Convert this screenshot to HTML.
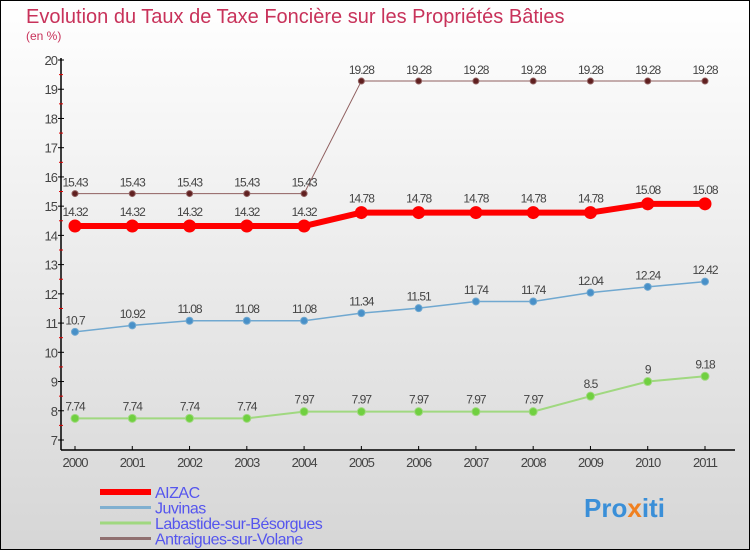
<!DOCTYPE html>
<html><head><meta charset="utf-8"><style>
body{margin:0}
#c{width:750px;height:550px;position:relative;overflow:hidden;box-sizing:border-box;border:1px solid #000;background:linear-gradient(#ffffff,#d6d6d6);font-family:"Liberation Sans",sans-serif}
</style></head><body>
<div id="c">
<svg id="s" width="750" height="550" style="position:absolute;left:-1px;top:-1px">
<text x="26" y="23" font-size="20" fill="#c8325a">Evolution du Taux de Taxe Foncière sur les Propriétés Bâties</text>
<text x="26" y="40" font-size="12" fill="#c8325a">(en %)</text>
<text x="584" y="517" font-size="26" font-weight="bold" fill="#3a8fd8">Pro<tspan fill="#f08020">x</tspan>iti</text>
</svg>
</div>
<script>
const years=["2000","2001","2002","2003","2004","2005","2006","2007","2008","2009","2010","2011"];
const aizac=[14.32,14.32,14.32,14.32,14.32,14.78,14.78,14.78,14.78,14.78,15.08,15.08];
const juvinas=[10.7,10.92,11.08,11.08,11.08,11.34,11.51,11.74,11.74,12.04,12.24,12.42];
const labastide=[7.74,7.74,7.74,7.74,7.97,7.97,7.97,7.97,7.97,8.5,9,9.18];
const antraigues=[15.43,15.43,15.43,15.43,15.43,19.28,19.28,19.28,19.28,19.28,19.28,19.28];
const yTicks=[7,8,9,10,11,12,13,14,15,16,17,18,19,20];
const NS="http://www.w3.org/2000/svg",s=document.getElementById('s');
const X=i=>75+i*(630/11), Y=v=>440-(v-7)*(380/13);
function el(t,a,p){const e=document.createElementNS(NS,t);for(const k in a)e.setAttribute(k,a[k]);(p||s).appendChild(e);return e;}
let e=el('line',{x1:61,y1:58,x2:61,y2:450,stroke:'#000','stroke-width':1.5});

e=el('line',{x1:61,y1:450,x2:735,y2:450,stroke:'#000','stroke-width':1.5});

yTicks.forEach((v,i)=>{
 el('line',{x1:58,x2:64,y1:Y(v),y2:Y(v),stroke:'#000'});
 if(i<yTicks.length-1) el('line',{x1:59,x2:63,y1:Y(v+0.5),y2:Y(v+0.5),stroke:'#e00000'});
 const t=el('text',{x:57,y:Y(v)+5,'text-anchor':'end','font-size':13,fill:'#444','letter-spacing':'-1'});t.textContent=v;
 
});
years.forEach((y,i)=>{
 el('line',{x1:X(i),x2:X(i),y1:446,y2:450,stroke:'#000'});
 const t=el('text',{x:X(i),y:467,'text-anchor':'middle','font-size':13,fill:'#444','letter-spacing':'-1'});t.textContent=y;
 
});
function series(d,col,w,r,dot,name){
 const g=el('g',{});
 el('polyline',{points:d.map((v,i)=>X(i)+','+Y(v)).join(' '),fill:'none',stroke:col,'stroke-width':w,'stroke-linejoin':'round'},g);
 d.forEach((v,i)=>{
  const c=el('circle',{cx:X(i),cy:Y(v),r:r,fill:dot,stroke:col,'stroke-width':1},g);
  
  const t=el('text',{x:X(i),y:Y(v)-(r+4),'text-anchor':'middle','font-size':12,fill:'#444','letter-spacing':'-1'},g);
  t.textContent=String(v);
 });
}
series(labastide,'#a0d880',2,4,'#70d040','labastide');
series(juvinas,'#70a8d0',1.5,3.5,'#4890c8','juvinas');
series(antraigues,'#906060',1,3,'#602020','antraigues');
series(aizac,'#ff0000',6,6,'#ff0000','aizac');
const leg=[["AIZAC","#ff0000",6],["Juvinas","#80b0d0",3],["Labastide-sur-Bésorgues","#a0d880",3],["Antraigues-sur-Volane","#907070",3]];
leg.forEach((l,i)=>{
 const y=492+i*15.5;
 const g=el('g',{});
 el('line',{x1:100,x2:151,y1:y,y2:y,stroke:l[1],'stroke-width':l[2]},g);
 const t=el('text',{x:155,y:y+6,'font-size':16,fill:'#5555ee','letter-spacing':'-0.5'},g);t.textContent=l[0];
});
</script>
</body></html>
